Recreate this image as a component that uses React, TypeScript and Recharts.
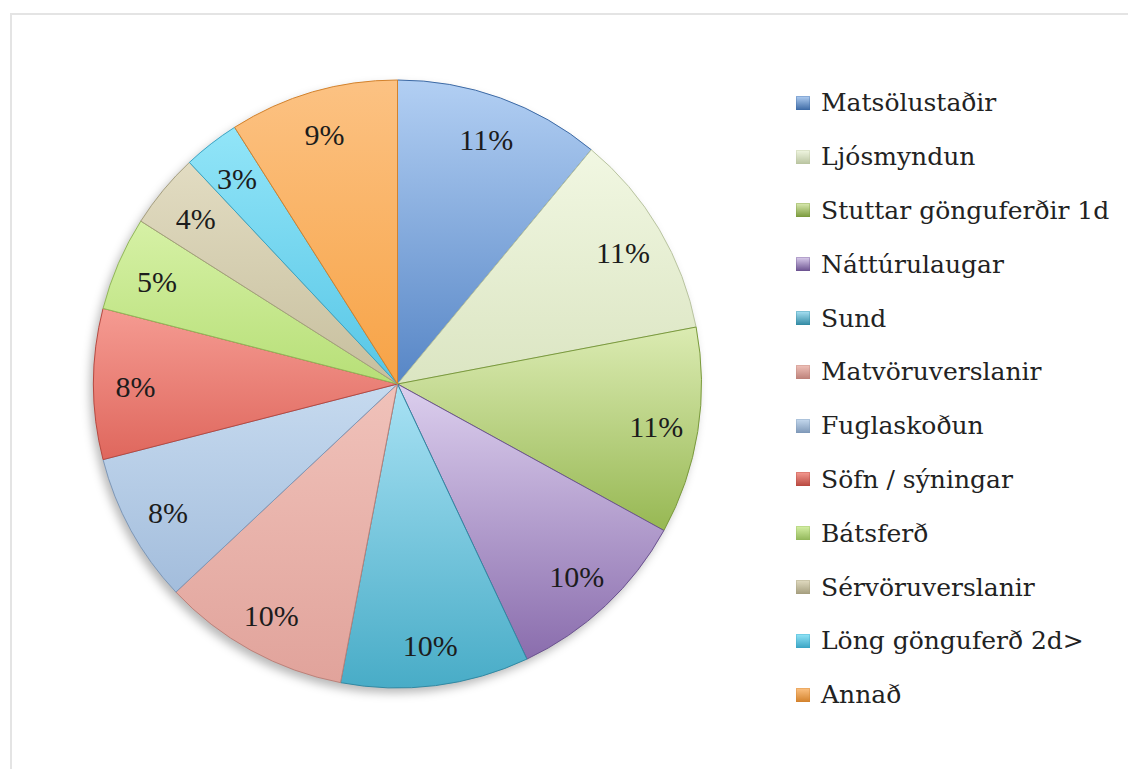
import { PieChart, Pie, Cell, Legend } from "recharts"

const CATEGORIES = [
  "Matsölustaðir",
  "Ljósmyndun",
  "Stuttar gönguferðir 1d",
  "Náttúrulaugar",
  "Sund",
  "Matvöruverslanir",
  "Fuglaskoðun",
  "Söfn / sýningar",
  "Bátsferð",
  "Sérvöruverslanir",
  "Löng gönguferð 2d>",
  "Annað",
]

const SHARES = [11, 11, 11, 10, 10, 10, 8, 8, 5, 4, 3, 9]

// light (top) and dark (bottom) shade of each slice
const TOP_COLORS = [
  "#b2cff3", "#f1f7e2", "#dbebb2", "#dccfee", "#a9e2f4", "#f0c2ba",
  "#c6daef", "#f59b92", "#d6f1a6", "#e2dcc2", "#92e5f8", "#fcc283",
]
const BOTTOM_COLORS = [
  "#5786c6", "#dbe5c2", "#97b853", "#8a6dad", "#48acc7", "#e1a39b",
  "#a3bddc", "#df675d", "#b7df77", "#c7bf9e", "#57c6e6", "#f7a346",
]
const EDGE_COLORS = [
  "#3d6aa5", "#b9c4a0", "#7a9a3c", "#6b5290", "#3189a3", "#bd8179",
  "#7e98b8", "#b8483f", "#92b75a", "#a59e7e", "#3aa4c4", "#d3822c",
]

const LABEL_FONT = "'Liberation Serif', 'Times New Roman', serif"
const LEGEND_FONT = "'DejaVu Serif', serif"

const data = CATEGORIES.map((name, i) => ({ name, value: SHARES[i] }))

const RADIAN = Math.PI / 180

function SliceLabel({ cx, cy, midAngle, value }: any) {
  const r = 262
  const x = cx + r * Math.cos(-midAngle * RADIAN)
  const y = cy + r * Math.sin(-midAngle * RADIAN) + 2
  return (
    <text
      x={x}
      y={y}
      fill="#1c1c1c"
      fontFamily={LABEL_FONT}
      fontSize={30}
      textAnchor="middle"
      dominantBaseline="central"
    >
      {value}%
    </text>
  )
}

function LegendList() {
  return (
    <div style={{ fontFamily: LEGEND_FONT, fontSize: 25, color: "#222" }}>
      {CATEGORIES.map((name, i) => (
        <div
          key={name}
          style={{ display: "flex", alignItems: "center", height: 53.8 }}
        >
          <span
            style={{
              display: "inline-block",
              width: 14,
              height: 14,
              marginRight: 11,
              background: `linear-gradient(${TOP_COLORS[i]}, ${EDGE_COLORS[i]})`,
              boxShadow: `inset 0 0 0 1px ${EDGE_COLORS[i]}55`,
            }}
          />
          <span style={{ lineHeight: 1 }}>{name}</span>
        </div>
      ))}
    </div>
  )
}

export default function App() {
  return (
    <div style={{ position: "relative", width: 1128, height: 761 }}>
      <div
        style={{
          position: "absolute",
          left: 2,
          top: 5,
          right: 0,
          bottom: 0,
          borderTop: "2px solid #e4e4e4",
          borderLeft: "2px solid #e4e4e4",
        }}
      />
      <PieChart
        width={1128}
        height={761}
        margin={{ top: 0, right: 0, bottom: 0, left: 0 }}
        style={{ position: "absolute", left: 0, top: 0 }}
      >
        <defs>
          {TOP_COLORS.map((c, i) => (
            <linearGradient key={i} id={`slice-${i}`} x1="0" y1="0" x2="0" y2="1">
              <stop offset="0%" stopColor={c} />
              <stop offset="100%" stopColor={BOTTOM_COLORS[i]} />
            </linearGradient>
          ))}
          <filter id="pie-shadow" x="-10%" y="-10%" width="120%" height="120%">
            <feGaussianBlur stdDeviation="5" />
          </filter>
        </defs>
        <Pie
          data={[{ name: "shadow", value: 1 }]}
          dataKey="value"
          cx={386}
          cy={381}
          outerRadius={304}
          stroke="none"
          fill="#000"
          fillOpacity={0.28}
          isAnimationActive={false}
          legendType="none"
          style={{ filter: "url(#pie-shadow)" }}
        />
        <Pie
          data={data}
          dataKey="value"
          nameKey="name"
          cx={389.5}
          cy={376}
          outerRadius={304}
          startAngle={90}
          endAngle={-270}
          label={SliceLabel}
          labelLine={false}
          isAnimationActive={false}
        >
          {data.map((entry, i) => (
            <Cell
              key={entry.name}
              fill={`url(#slice-${i})`}
              stroke={EDGE_COLORS[i]}
              strokeWidth={1}
            />
          ))}
        </Pie>
        <Legend
          layout="vertical"
          content={() => <LegendList />}
          wrapperStyle={{ left: 788, top: 68, width: 340 }}
        />
      </PieChart>
    </div>
  )
}
